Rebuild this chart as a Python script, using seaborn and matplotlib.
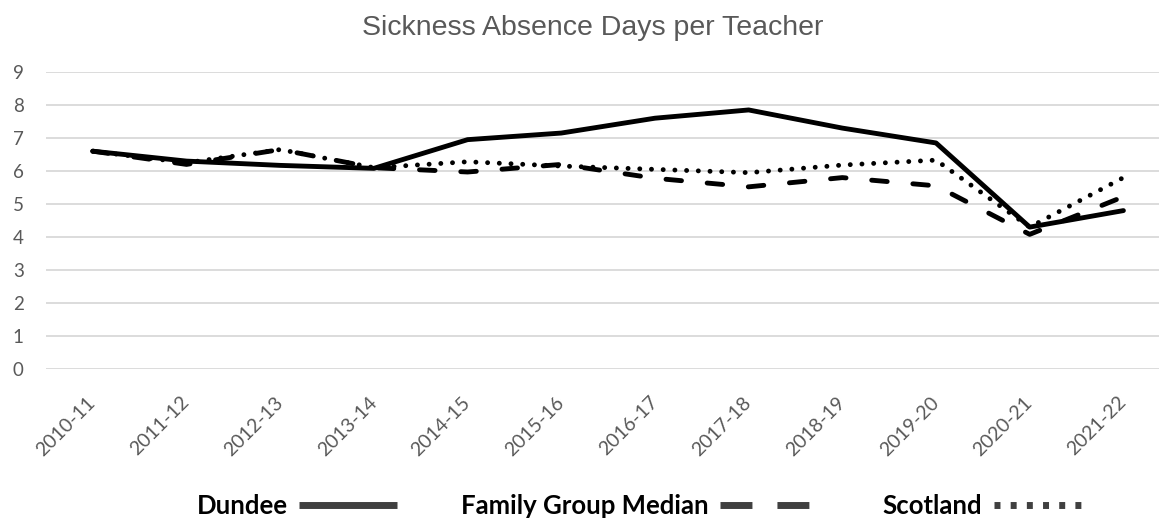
import matplotlib
matplotlib.use("Agg")
import matplotlib.pyplot as plt
from matplotlib.lines import Line2D
import seaborn as sns
import pandas as pd

years = ["2010-11", "2011-12", "2012-13", "2013-14", "2014-15", "2015-16",
         "2016-17", "2017-18", "2018-19", "2019-20", "2020-21", "2021-22"]
dundee = [6.60, 6.30, 6.17, 6.08, 6.95, 7.15, 7.60, 7.85, 7.30, 6.85, 4.30, 4.80]
family_group_median = [6.60, 6.20, 6.65, 6.10, 5.97, 6.20, 5.78, 5.52, 5.80, 5.55, 4.08, 5.22]
scotland = [6.60, 6.25, 6.65, 6.10, 6.28, 6.15, 6.05, 5.95, 6.18, 6.33, 4.30, 5.80]

series_names = ["Dundee", "Family Group Median", "Scotland"]

df = pd.DataFrame({"year": years * 3,
                   "value": dundee + family_group_median + scotland,
                   "series": [s for s in series_names for _ in years]})
df["x"] = list(range(len(years))) * 3

sns.set_theme(style="white")
plt.rcParams["font.family"] = ["Lato", "DejaVu Sans"]

fig = plt.figure(figsize=(11.59, 5.23), dpi=100)
ax = fig.add_axes([46/1159, (523-369)/523, (1159-46)/1159, (369-72)/523])

sns.lineplot(data=df, x="x", y="value", hue="series", style="series",
             palette=["black", "black", "black"],
             dashes={"Dundee": "", "Family Group Median": (3.2, 5.3), "Scotland": (0.01, 2.4)},
             linewidth=3.5, ax=ax, legend=False, sort=False)
for ln in ax.get_lines():
    ln.set_solid_capstyle("round")
    ln.set_dash_capstyle("round")

ax.set_ylim(0, 9)
ax.set_xlim(-0.5, 11.38)
ax.set_yticks(range(0, 10))
ax.yaxis.grid(True, color="#d9d9d9", linewidth=1.3)
ax.set_axisbelow(True)
for sp in ax.spines.values():
    sp.set_visible(False)
ax.set_xticks(range(len(years)))
ax.set_xticklabels(years, rotation=45, ha="right", va="center", rotation_mode="anchor",
                   color="#595959", fontsize=14)
ax.tick_params(axis="x", pad=22, length=0)
ax.tick_params(axis="y", length=0, pad=16, labelcolor="#595959", labelsize=13.5)
ax.set_xlabel("")
ax.set_ylabel("")

fig.text(593/1159, 1 - 35/523, "Sickness Absence Days per Teacher",
         ha="center", va="baseline", color="#595959", fontsize=20.5,
         family=["Liberation Sans", "DejaVu Sans"])

handles = [
    Line2D([0], [0], color="#404040", linewidth=5, solid_capstyle="butt"),
    Line2D([0], [0], color="#404040", linewidth=5, dashes=(4.6, 3.6), dash_capstyle="butt"),
    Line2D([0], [0], color="#404040", linewidth=5, dashes=(0.86, 1.47), dash_capstyle="butt"),
]
leg = fig.legend(handles, series_names, loc="center", bbox_to_anchor=(644/1159, 1 - 506/523),
                 ncol=3, frameon=False, markerfirst=False, handlelength=3.8,
                 columnspacing=2.5, handletextpad=0.45, borderpad=0,
                 prop={"family": "Lato", "weight": "bold", "size": 18.5})
for t in leg.get_texts():
    t.set_color("black")

fig.savefig("out.png", dpi=100)
